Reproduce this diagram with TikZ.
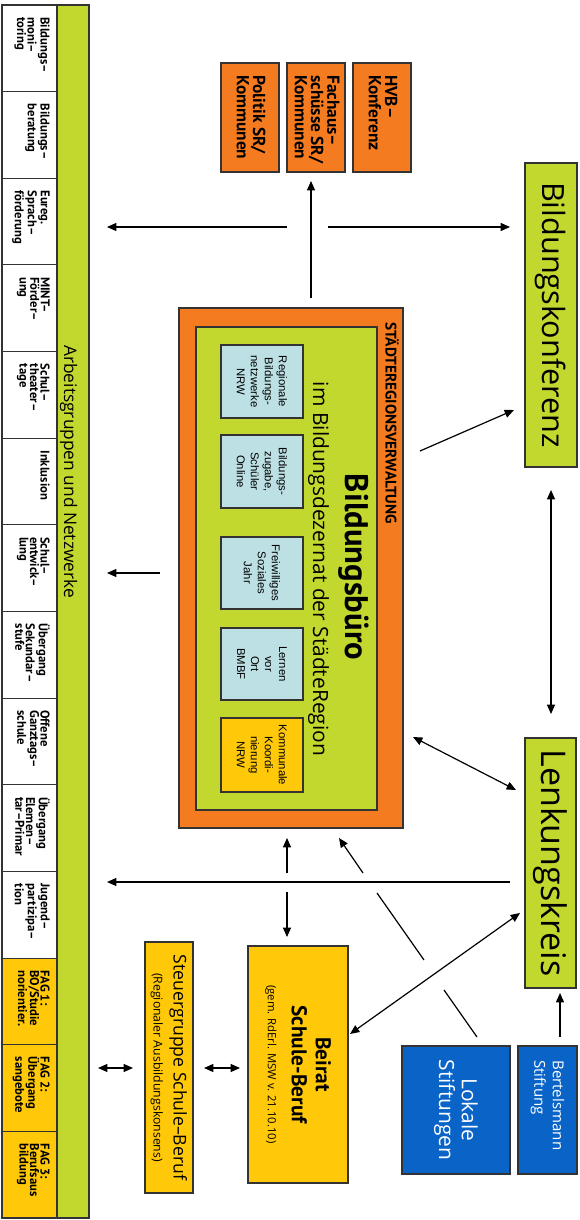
\documentclass[tikz,border=0pt]{standalone}
\usepackage{fontspec}
\setmainfont{PT Sans}
\newfontfamily\osans{Open Sans}
\newfontfamily\arialf{Liberation Sans}
\usetikzlibrary{arrows.meta,fit,calc}
\definecolor{lgreen}{HTML}{C3D82E}
\definecolor{orng}{HTML}{F47B20}
\definecolor{yel}{HTML}{FFC90A}
\definecolor{lblue}{HTML}{BCE0E3}
\definecolor{dblue}{HTML}{0A64C8}
\definecolor{bord}{HTML}{333333}
\tikzset{
  box/.style={draw=bord, line width=0.8pt, inner sep=0pt, rectangle},
  rtext/.style={rotate=-90, inner sep=0pt},
  conn/.style={line width=0.9pt, -{Triangle[length=7pt,width=6pt]}},
  dconn/.style={line width=0.9pt, {Triangle[length=7pt,width=6pt]}-{Triangle[length=7pt,width=6pt]}},
  plainline/.style={line width=0.9pt},
  agfont/.style={font=\bfseries\fontsize{9.5}{7.9}\selectfont},
  topfont/.style={font=\bfseries\fontsize{13}{12.2}\selectfont},
  smallfont/.style={font=\arialf\fontsize{8.5}{10.5}\selectfont},
}
\begin{document}
\begin{tikzpicture}[x=0.75pt,y=-0.75pt]
\useasboundingbox (0,0) rectangle (579,1220);

% ---- left column: working groups ----
\node[box, fill=lgreen, fit={(57,5)(89,1218)}] (bar) {};
\node[rtext, anchor=base west, font=\osans\fontsize{13}{15}\selectfont] (bartext) at (64,345) {Arbeitsgruppen und Netzwerke};

\foreach \i/\c/\t in {
  0/white/{Bildungs–\\moni–\\toring},
  1/white/{Bildungs–\\beratung},
  2/white/{Eureg.\\Sprach–\\förderung},
  3/white/{MINT–\\Förder–\\ung},
  4/white/{Schul–\\theater–\\tage},
  5/white/{Inklusion},
  6/white/{Schul–\\entwick–\\lung},
  7/white/{Übergang\\Sekundar–\\stufe},
  8/white/{Offene\\Ganztags–\\schule},
  9/white/{Übergang\\Elemen–\\tar–Primar},
  10/white/{Jugend–\\partizipa–\\tion},
  11/yel/{FAG 1:\\BO/Studie\\norientier.},
  12/yel/{FAG 2:\\Übergang\\sangebote},
  13/yel/{FAG 3:\\Berufsaus\\bildung}} {
  \pgfmathsetmacro\ya{5+86.64*\i}
  \pgfmathsetmacro\yb{5+86.64*(\i+1)}
  \node[box, fill=\c, fit={(2,\ya)(57,\yb)}] (ag\i) {};
  \node[rtext, anchor=north west, align=left, agfont] (agt\i) at (50,\ya+12) {\t};
}

% ---- top orange boxes ----
\node[box, fill=orng, fit={(221,63)(279,172)}] (pol) {};
\node[rtext, anchor=west, align=left, topfont] (polt) at (251,75) {Politik SR/\\Kommunen};
\node[box, fill=orng, fit={(287,63)(345,172)}] (fach) {};
\node[rtext, anchor=west, align=left, topfont] (facht) at (317,75) {Fachaus–\\schüsse SR/\\Kommunen};
\node[box, fill=orng, fit={(353,63)(411,172)}] (hvb) {};
\node[rtext, anchor=west, align=left, topfont] (hvbt) at (383,75) {HVB–\\Konferenz};

% ---- Städteregionsverwaltung / Bildungsbüro ----
\node[box, fill=orng, fit={(179,308)(403,828)}] (sr) {};
\node[rtext, anchor=base west, font=\bfseries\fontsize{11.5}{13}\selectfont] (srt) at (385.5,322) {STÄDTEREGIONSVERWALTUNG};
\node[box, fill=lgreen, fit={(196,327)(377,810)}] (bb) {};
\node[rtext, anchor=base, font=\bfseries\fontsize{24.5}{28}\selectfont] (bbt) at (345,567) {Bildungsbüro};
\node[rtext, anchor=base, font=\osans\fontsize{15.7}{18}\selectfont] (bbt2) at (313,569) {im Bildungsdezernat der StädteRegion};

\node[box, fill=lblue, fit={(221,345)(303,418)}] (rb) {};
\node[rtext, align=center, smallfont] (rbt) at (rb.center) {Regionale\\Bildungs-\\netzwerke\\NRW};
\node[box, fill=lblue, fit={(221,435)(303,508)}] (bz) {};
\node[rtext, align=center, smallfont] (bzt) at (bz.center) {Bildungs-\\zugabe,\\Schüler\\Online};
\node[box, fill=lblue, fit={(221,537)(303,609)}] (fsj) {};
\node[rtext, align=center, smallfont] (fsjt) at (fsj.center) {Freiwilliges\\Soziales\\Jahr};
\node[box, fill=lblue, fit={(221,628)(303,700)}] (lvo) {};
\node[rtext, align=center, smallfont] (lvot) at (lvo.center) {Lernen\\vor\\Ort\\BMBF};
\node[box, fill=yel, fit={(221,718)(303,792)}] (kk) {};
\node[rtext, align=center, smallfont] (kkt) at (kk.center) {Kommunale\\Koordi-\\nierung\\NRW};

% ---- right side ----
\node[box, fill=lgreen, fit={(525,163)(577,467)}] (bk) {};
\node[rtext, font=\osans\fontsize{23}{26}\selectfont] (bkt) at (bk.center) {Bildungskonferenz};
\node[box, fill=lgreen, fit={(525,738)(576,988)}] (lk) {};
\node[rtext, font=\osans\fontsize{25.5}{28}\selectfont] (lkt) at (lk.center) {Lenkungskreis};

\node[box, fill=dblue, fit={(402,1046)(510,1174)}] (ls) {};
\node[rtext, align=center, text=white, font=\osans\fontsize{15.7}{17}\selectfont] (lst) at (ls.center) {Lokale\\Stiftungen};
\node[box, fill=dblue, fit={(518,1046)(577,1174)}] (bs) {};
\node[rtext, anchor=west, align=left, text=white, font=\osans\fontsize{11.3}{14}\selectfont] (bst) at (547.5,1060) {Bertelsmann\\Stiftung};

\node[box, fill=yel, fit={(248,946)(348,1183)}] (br) {};
\node[rtext, align=center, font=\bfseries\fontsize{16}{18}\selectfont] (brt) at (br.center) {Beirat\\Schule-Beruf\\{\osans\mdseries\fontsize{8.5}{14}\selectfont (gem. RdErl. MSW v. 21.10.10)}};
\node[box, fill=yel, fit={(145,942)(193,1193)}] (sg) {};
\node[rtext, align=center, font=\osans\fontsize{13.2}{15}\selectfont] (sgt) at (sg.center) {Steuergruppe Schule–Beruf\\{\fontsize{9.2}{11}\selectfont (Regionaler Ausbildungskonsens)}};

% ---- connector end points ----
\coordinate (c1a) at (311,298); \coordinate (c1b) at (311,181);
\coordinate (c2a) at (287,227); \coordinate (c2b) at (107,227);
\coordinate (c3a) at (328,227); \coordinate (c3b) at (510,227);
\coordinate (c4a) at (420,451); \coordinate (c4b) at (514,410);
\coordinate (c5a) at (551,490); \coordinate (c5b) at (551,714);
\coordinate (c6a) at (413,737); \coordinate (c6b) at (516,790);
\coordinate (c7a) at (510,882); \coordinate (c7b) at (107,882);
\coordinate (c8a) at (287,873); \coordinate (c8b) at (287,838);
\coordinate (c9a) at (287,892); \coordinate (c9b) at (287,937);
\coordinate (l0) at (477,1037); \coordinate (l1) at (444,990);
\coordinate (l2) at (424,960);  \coordinate (l3) at (377,893);
\coordinate (l4) at (363,873);  \coordinate (l5) at (339,838);
\coordinate (c10a) at (350,1034); \coordinate (c10b) at (520,913);
\coordinate (c11a) at (560,1037); \coordinate (c11b) at (560,993);
\coordinate (c12a) at (204,1068); \coordinate (c12b) at (240,1068);
\coordinate (c13a) at (98,1068);  \coordinate (c13b) at (133,1068);
\coordinate (c14a) at (160,573);  \coordinate (c14b) at (107,573);

\draw[conn] (c1a) -- (c1b);
\draw[conn] (c2a) -- (c2b);
\draw[conn] (c3a) -- (c3b);
\draw[conn] (c4a) -- (c4b);
\draw[dconn] (c5a) -- (c5b);
\draw[dconn] (c6a) -- (c6b);
\draw[conn] (c7a) -- (c7b);
\draw[conn] (c8a) -- (c8b);
\draw[conn] (c9a) -- (c9b);
\draw[plainline] (l0) -- (l1);
\draw[plainline] (l2) -- (l3);
\draw[conn] (l4) -- (l5);
\draw[dconn] (c10a) -- (c10b);
\draw[conn] (c11a) -- (c11b);
\draw[dconn] (c12a) -- (c12b);
\draw[dconn] (c13a) -- (c13b);
\draw[conn] (c14a) -- (c14b);
\end{tikzpicture}
\end{document}
